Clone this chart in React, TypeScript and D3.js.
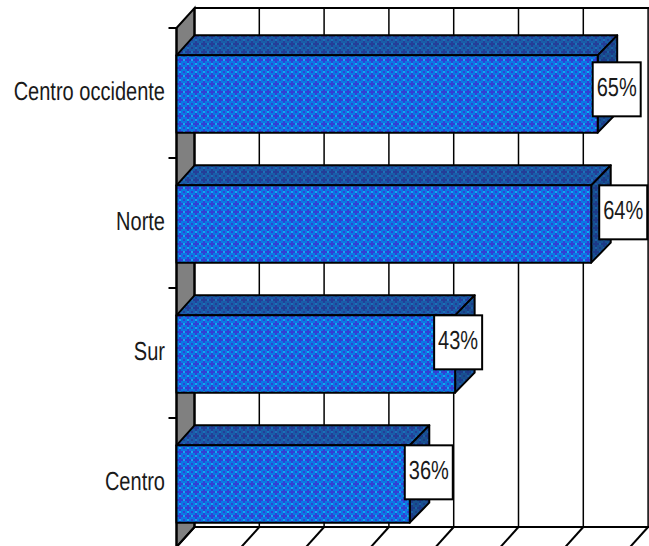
import React from 'react';
import * as d3 from 'd3';

const categories = ['Centro occidente', 'Norte', 'Sur', 'Centro'];
const values = [65, 64, 43, 36];
const labelShiftX = [19, 32, 3, 19];
const labelShiftY = [7, 0, 0, 0];

const width = 649;
const height = 546;
const wallDepthX = 18;
const barDepthX = 19.5;
const depthY = 20;
const wallTop = 8;
const wallBottom = 527;

const x = d3.scaleLinear().domain([0, 70]).range([176.5, 630.1]);
const y = d3.scaleBand<string>()
  .domain(categories)
  .range([29, 549])
  .paddingInner(0.405)
  .paddingOuter(0.2025);

const poly = (pts: number[][]) => d3.line()(pts as [number, number][]) + 'Z';

const stretch = 0.77;

function Stretched({ px, py, anchor, children }: any) {
  return (
    <text
      transform={`translate(${px},${py}) scale(${stretch},1)`}
      textAnchor={anchor}
      fontFamily="Liberation Sans, Arial, sans-serif"
      fontSize={26}
      fill="#1a1a1a"
      textRendering="geometricPrecision"
    >
      {children}
    </text>
  );
}

function Tile({ id, base, cross, dot }: any) {
  return (
    <pattern id={id} patternUnits="userSpaceOnUse" width={8} height={8}>
      <rect width={8} height={8} fill={base} />
      <rect x={3} y={1} width={2} height={6} fill={cross} />
      <rect x={1} y={3} width={6} height={2} fill={cross} />
      <rect x={0} y={3} width={1} height={2} fill={dot} />
      <rect x={7} y={3} width={1} height={2} fill={dot} />
      <rect x={3} y={0} width={2} height={1} fill={dot} />
      <rect x={3} y={7} width={2} height={1} fill={dot} />
      <rect x={0} y={0} width={1} height={1} fill={cross} />
      <rect x={7} y={7} width={1} height={1} fill={cross} />
      <rect x={7} y={0} width={1} height={1} fill={cross} />
      <rect x={0} y={7} width={1} height={1} fill={cross} />
    </pattern>
  );
}

export default function App() {
  const ticks = x.ticks(7);
  const yTicks = d3.range(categories.length + 1).map((i) => y.range()[0] + i * y.step());

  return (
    <svg width={width} height={height} style={{ position: 'absolute', left: 0, top: 0 }}>
      <defs>
        <Tile id="front" base="#0c78e4" cross="#3240d4" dot="#16a8f0" />
        <Tile id="top" base="#1a5ca8" cross="#243e98" dot="#1c70b8" />
        <Tile id="side" base="#18508f" cross="#1c3a88" dot="#1a5ea4" />
      </defs>
      <rect width={width} height={height} fill="#fff" />

      <path
        d={poly([[x(0), wallTop + depthY], [x(0) + wallDepthX, wallTop], [x(0) + wallDepthX, wallBottom], [x(0), wallBottom + depthY]])}
        fill="#808080"
        stroke="#000"
        strokeWidth={2}
      />

      <line x1={x(0) + wallDepthX} x2={width} y1={wallTop} y2={wallTop} stroke="#000" strokeWidth={2} />
      <line x1={x(0) + wallDepthX} x2={width} y1={wallBottom} y2={wallBottom} stroke="#000" strokeWidth={2} />
      {ticks.map((t) => (
        <g key={t} stroke="#000" strokeWidth={2}>
          <line x1={x(t) + wallDepthX} x2={x(t) + wallDepthX} y1={wallTop} y2={wallBottom} strokeWidth={t === 0 ? 2 : 1.5} />
          <line x1={x(t) + wallDepthX} x2={x(t)} y1={wallBottom} y2={wallBottom + depthY} />
        </g>
      ))}

      <line x1={x(0)} x2={x(0)} y1={wallTop + depthY} y2={height} stroke="#000" strokeWidth={2} />
      {yTicks.map((t) => (
        <line key={t} x1={x(0) - 8} x2={x(0)} y1={t - 1} y2={t - 1} stroke="#000" strokeWidth={2} />
      ))}

      {categories.map((c, i) => {
        const x1 = x(values[i]);
        const y0 = y(c) as number;
        const bw = y.bandwidth();
        return (
          <g key={c} stroke="#000" strokeWidth={2} strokeLinejoin="round">
            <path
              d={poly([[x(0), y0], [x(0) + wallDepthX, y0 - depthY], [x1 + barDepthX, y0 - depthY], [x1, y0]])}
              fill="url(#top)"
            />
            <path
              d={poly([[x1, y0], [x1 + barDepthX, y0 - depthY], [x1 + barDepthX, y0 + bw - depthY], [x1, y0 + bw]])}
              fill="url(#side)"
            />
            <rect x={x(0)} y={y0} width={x1 - x(0)} height={bw} fill="url(#front)" />
          </g>
        );
      })}

      {categories.map((c, i) => {
        const cx = x(values[i]) + labelShiftX[i];
        const top = (y(c) as number) + labelShiftY[i];
        return (
          <g key={c}>
            <rect x={cx - 24} y={top} width={48} height={54} fill="#fff" stroke="#000" strokeWidth={2} />
            <Stretched px={cx} py={top + 34} anchor="middle">
              {values[i]}%
            </Stretched>
            <Stretched px={165} py={(y(c) as number) + y.bandwidth() / 2 + 6} anchor="end">
              {c}
            </Stretched>
          </g>
        );
      })}
    </svg>
  );
}
